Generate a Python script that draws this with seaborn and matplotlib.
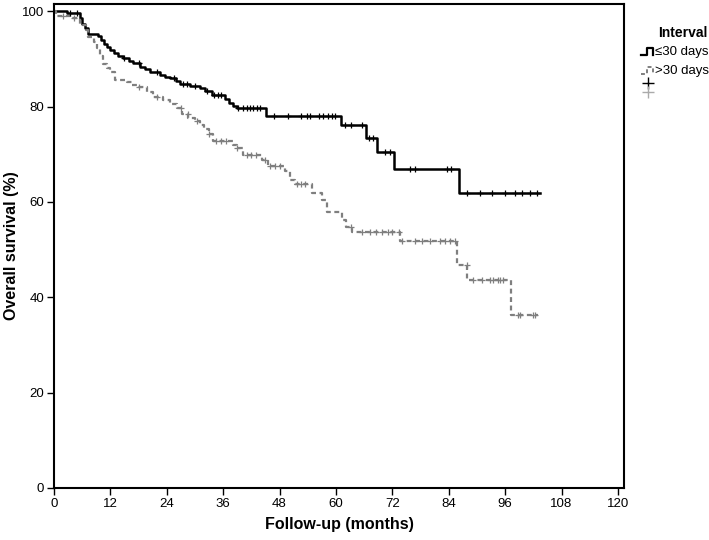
import numpy as np
import pandas as pd
import matplotlib
matplotlib.use("Agg")
import matplotlib.pyplot as plt
from matplotlib.lines import Line2D
import seaborn as sns

# ---- data ----
# <=30 days group: step times (months) and survival (%)
le30_time = [0, 2.8, 5.6, 6.0, 6.6, 7.2, 9.4, 10.0, 10.6, 11.2, 11.9, 12.8, 13.6, 14.7,
             16.0, 16.9, 18.3, 19.4, 20.4, 22.6, 23.6, 24.7, 26.0, 26.8, 28.9, 31.0,
             32.2, 33.6, 36.4, 37.2, 38.0, 39.0, 45.1, 61.1, 66.5, 68.8, 72.3, 86.2, 103.4]
le30_surv = [100, 99.6, 98.5, 97.4, 96.5, 95.3, 94.7, 93.9, 93.2, 92.5, 91.8, 91.2, 90.6, 90.1,
             89.6, 89.2, 88.3, 87.8, 87.3, 86.6, 86.2, 85.9, 85.3, 84.8, 84.3, 83.8,
             83.3, 82.5, 81.6, 80.8, 80.2, 79.6, 78.1, 76.1, 73.5, 70.4, 66.9, 61.8, 61.8]
le30_censor = [3.4, 4.8, 15.0, 18.0, 22.0, 25.5, 27.5, 28.3, 30.0, 32.5, 34.0, 34.8, 35.6,
               39.1, 40.2, 41.1, 41.7, 42.3, 43.2, 43.8, 46.8, 49.8, 52.5, 53.8, 54.5,
               56.4, 57.3, 58.4, 59.1, 59.8, 61.9, 63.3, 65.5, 67.1, 67.8, 70.4, 71.5,
               75.7, 76.8, 83.6, 84.4, 87.9, 90.6, 93.2, 96.0, 98.0, 99.6, 101.3, 102.8]

# >30 days group
gt30_time = [0, 0.5, 3.4, 5.5, 6.8, 7.3, 8.5, 9.2, 9.8, 10.5, 11.3, 12.0, 13.0, 15.5, 16.5,
             17.6, 19.7, 21.1, 23.3, 24.7, 26.1, 27.2, 28.6, 30.0, 31.0, 32.0, 33.0, 33.8,
             38.0, 39.0, 40.2, 44.3, 45.5, 49.1, 50.2, 51.3, 55.0, 57.0, 58.0, 61.3, 62.2,
             63.4, 73.6, 85.8, 87.9, 97.2, 103.0]
gt30_surv = [100, 99.0, 98.5, 97.1, 96.0, 94.6, 93.6, 92.2, 90.6, 89.0, 88.0, 87.3, 85.6, 85.2,
             84.6, 84.0, 83.1, 82.1, 81.4, 80.5, 79.6, 78.4, 77.6, 76.9, 76.2, 75.3, 74.2,
             72.7, 72.0, 71.3, 69.9, 68.8, 67.6, 66.4, 64.6, 63.8, 61.9, 60.5, 57.8, 56.3,
             54.8, 53.6, 51.9, 46.7, 43.7, 36.3, 36.3]
gt30_censor = [2.0, 4.2, 18.0, 22.0, 27.0, 28.5, 30.5, 33.0, 34.5, 35.5, 36.5, 39.0, 41.0,
               42.0, 43.0, 44.8, 46.0, 47.0, 48.0, 51.8, 52.6, 53.5, 63.3, 65.5, 67.2, 68.5,
               69.7, 71.1, 71.9, 73.5, 74.0, 76.8, 78.4, 80.0, 82.1, 83.2, 84.3, 85.3, 87.8,
               89.2, 91.0, 92.8, 93.5, 94.5, 94.9, 95.6, 98.8, 99.1, 102.0, 102.3]

x_ticks = [0, 12, 24, 36, 48, 60, 72, 84, 96, 108, 120]
y_ticks = [0, 20, 40, 60, 80, 100]
legend_title = "Interval"
group_labels = ["\u226430 days", ">30 days"]


def surv_at(times, surv, c):
    idx = np.searchsorted(np.asarray(times), np.asarray(c), side="right") - 1
    return np.asarray(surv)[idx]


plt.rcParams["font.family"] = ["Liberation Sans", "DejaVu Sans"]
W, H = 709, 540
fig = plt.figure(figsize=(W / 100, H / 100), dpi=100)
ax = fig.add_axes([54 / W, 1 - 488 / H, (624 - 54) / W, (488 - 4) / H])

grey = "#7f7f7f"
sns.lineplot(x=le30_time, y=le30_surv, drawstyle="steps-post", estimator=None, sort=False,
             color="black", lw=1.8, ax=ax)
sns.lineplot(x=gt30_time, y=gt30_surv, drawstyle="steps-post", estimator=None, sort=False,
             color=grey, lw=1.6, linestyle=(0, (2.2, 1.6)), ax=ax)
sns.scatterplot(x=le30_censor, y=surv_at(le30_time, le30_surv, le30_censor), marker="+",
                color="black", s=22, linewidth=0.9, ax=ax, zorder=3)
sns.scatterplot(x=gt30_censor, y=surv_at(gt30_time, gt30_surv, gt30_censor), marker="+",
                color=grey, s=22, linewidth=0.9, ax=ax, zorder=3)

ax.set_xlim(0, 121.3)
ax.set_ylim(0, 101.5)
ax.set_xticks(x_ticks)
ax.set_yticks(y_ticks)
ax.tick_params(direction="out", length=5, width=1, labelsize=9.5, colors="black", pad=2)
for sp in ax.spines.values():
    sp.set_visible(True)
    sp.set_color("black")
    sp.set_linewidth(1.5)
ax.set_xlabel("Follow-up (months)", fontsize=11.5, fontweight="bold", labelpad=5)
ax.set_ylabel("Overall survival (%)", fontsize=11.5, fontweight="bold", labelpad=2)
ax.grid(False)


def fx(x):
    return x / W


def fy(y):
    return 1 - y / H


# legend drawn outside the axes
fig.text(fx(683), fy(33), legend_title, ha="center", va="center", fontsize=10, fontweight="bold")
fig.add_artist(Line2D([fx(641), fx(647), fx(647), fx(653), fx(653)],
                      [fy(55), fy(55), fy(48), fy(48), fy(55)],
                      transform=fig.transFigure, color="black", lw=1.6))
fig.text(fx(655), fy(52), group_labels[0], ha="left", va="center", fontsize=9.5)
fig.add_artist(Line2D([fx(641), fx(647), fx(647), fx(653), fx(653)],
                      [fy(74), fy(74), fy(67), fy(67), fy(74)],
                      transform=fig.transFigure, color=grey, lw=1.4, linestyle=(0, (2, 1.5))))
fig.text(fx(655), fy(71), group_labels[1], ha="left", va="center", fontsize=9.5)
fig.add_artist(Line2D([fx(648)], [fy(83)], transform=fig.transFigure, marker="+",
                      color="black", markersize=9, mew=1.0, linestyle="none"))
fig.add_artist(Line2D([fx(648)], [fy(92)], transform=fig.transFigure, marker="+",
                      color="#aaaaaa", markersize=9, mew=1.0, linestyle="none"))

fig.savefig("out.png", dpi=100)
